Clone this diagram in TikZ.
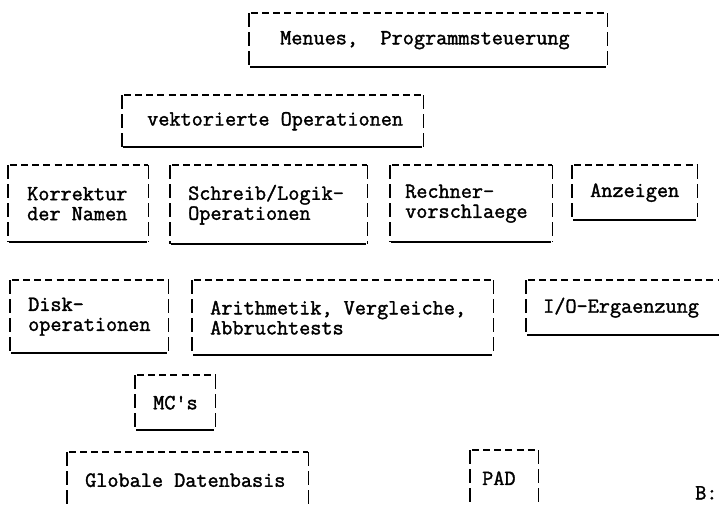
\documentclass[tikz,border=0pt]{standalone}
\usepackage{fontspec}
\newfontfamily\tw[FakeBold=1.6]{Latin Modern Mono}
\tikzset{
  box/.style={anchor=north west, inner sep=0pt, draw=none},
  txt/.style={anchor=west, inner sep=0pt, align=left, font=\tw\fontsize{21.6pt}{20pt}\selectfont},
  topln/.style={line width=1.7pt, dash pattern=on 0pt off 2pt on 7pt off 2.15pt},
  sideln/.style={line width=1.7pt, dash pattern=on 14pt off 5pt},
  botln/.style={draw=black, line width=2pt}
}
\newcommand\tframe[1]{%
  \draw[topln] (#1.north west) -- (#1.north east);
  \draw[sideln] (#1.north west) -- (#1.south west);
  \draw[sideln] (#1.north east) -- (#1.south east);
  \path[botln] ([xshift=1pt]#1.south west) -- ([xshift=-1pt]#1.south east);}
\newcommand\tb[5]{%
  \node[box, minimum width=#4pt, minimum height=#5pt] (#1) at (#2,#3) {};
  \tframe{#1}}
\begin{document}
\begin{tikzpicture}[x=1pt,y=-1pt]
\clip (0,0) rectangle (719,504);
\fill[white] (0,0) rectangle (719,504);
\tb{menu}{249}{13}{358}{54}
\node[txt] (menut) at ([xshift=31pt]menu.west) {Menues,\hspace{22.5pt}Programmsteuerung};
\tb{vek}{122}{95}{301}{52}
\node[txt] (vekt) at ([xshift=25pt]vek.west) {vektorierte Operationen};
\tb{kor}{8}{165}{140}{77}
\node[txt] (kort) at ([xshift=19pt]kor.west) {Korrektur\\der Namen};
\tb{sch}{170}{165}{197}{79}
\node[txt] (scht) at ([xshift=18pt]sch.west) {Schreib/Logik-\\Operationen};
\tb{rech}{390}{165}{162}{77}
\node[txt] (recht) at ([xshift=15pt]rech.west) {Rechner-\\vorschlaege};
\tb{anz}{572}{165}{125}{55}
\node[txt] (anzt) at ([xshift=18pt]anz.west) {Anzeigen};
\tb{disk}{10}{280}{158}{73}
\node[txt] (diskt) at ([xshift=18pt]disk.west) {Disk-\\operationen};
\tb{ari}{192}{280}{301}{75}
\node[txt] (arit) at ([xshift=18pt]ari.west) {Arithmetik, Vergleiche,\\Abbruchtests};
\tb{io}{526}{280}{210}{55}
\node[txt] (iot) at ([xshift=17pt]io.west) {I/O-Ergaenzung};
\tb{mc}{135}{375}{80}{55}
\node[txt] (mct) at ([xshift=18pt]mc.west) {MC's};
\tb{glob}{67}{452}{241}{56}
\node[txt] (globt) at ([xshift=18pt]glob.west) {Globale Datenbasis};
\tb{pad}{470}{450}{68}{56}
\node[txt] (padt) at ([xshift=12pt]pad.west) {PAD};
\node[txt, anchor=north west] (bt) at (695,486) {B:};
\end{tikzpicture}
\end{document}
